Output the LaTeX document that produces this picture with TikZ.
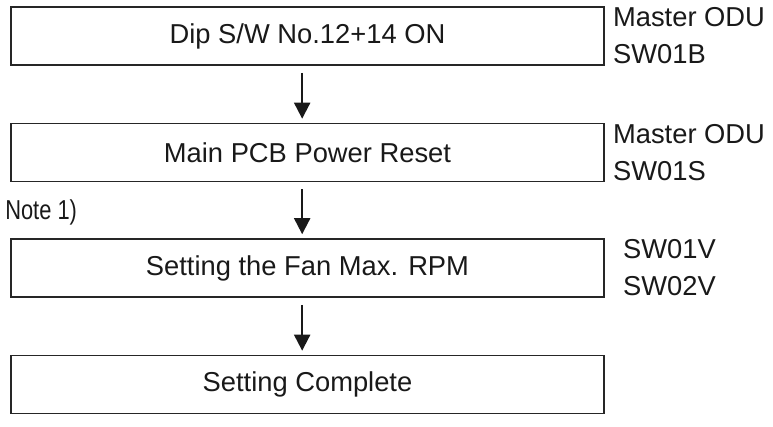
\documentclass[tikz,border=0pt]{standalone}
\usepackage{fontspec}
\setmainfont{Liberation Sans}
\newfontfamily\notefont[FakeStretch=0.8]{Liberation Sans}
\usetikzlibrary{arrows.meta,positioning}
\begin{document}
\begin{tikzpicture}[x=0.75pt,y=-0.75pt]
\tikzstyle{flowbox} = [draw=black!85,line width=1.2pt,minimum width=444.75pt,minimum height=43.5pt,inner sep=0pt,text=black!90,font=\fontsize{20.5}{27.75}\selectfont]
\tikzstyle{swlabel} = [anchor=west,inner sep=0pt,align=left,text=black!90,font=\fontsize{20.5}{27.75}\selectfont]
\tikzstyle{flowarrow} = [draw=black!90,line width=1.5pt,-{Triangle[width=12pt,length=12pt]},shorten <=5.25pt,shorten >=3pt]
\useasboundingbox (0,0) rectangle (773,426);
%les étapes
\node[flowbox] (dipsw) at (307.5,36) {Dip S/W No.12+14 ON};
\node[flowbox] (pcbreset) at (307.5,152.5) {Main PCB Power Reset};
\node[flowbox] (fanrpm) at (307.5,268) {Setting the Fan Max. RPM};
\node[flowbox] (complete) at (307.5,384.5) {Setting Complete};
%les interrupteurs
\node[swlabel,right=6pt of dipsw] (dipswlbl) {Master ODU\\SW01B};
\node[swlabel,right=6pt of pcbreset] (pcbresetlbl) {Master ODU\\SW01S};
\node[swlabel,right=13.5pt of fanrpm] (fanrpmlbl) {SW01V\\SW02V};
%la note
\node[anchor=west,inner sep=0pt,text=black!90,font=\notefont\fontsize{20.5}{24}\selectfont] (note) at (5,212) {Note 1)};
%les flèches
\draw[flowarrow] ([xshift=-4pt]dipsw.south) -- ([xshift=-4pt]pcbreset.north);
\draw[flowarrow] ([xshift=-4pt]pcbreset.south) -- ([xshift=-4pt]fanrpm.north);
\draw[flowarrow] ([xshift=-4pt]fanrpm.south) -- ([xshift=-4pt]complete.north);
\end{tikzpicture}
\end{document}
